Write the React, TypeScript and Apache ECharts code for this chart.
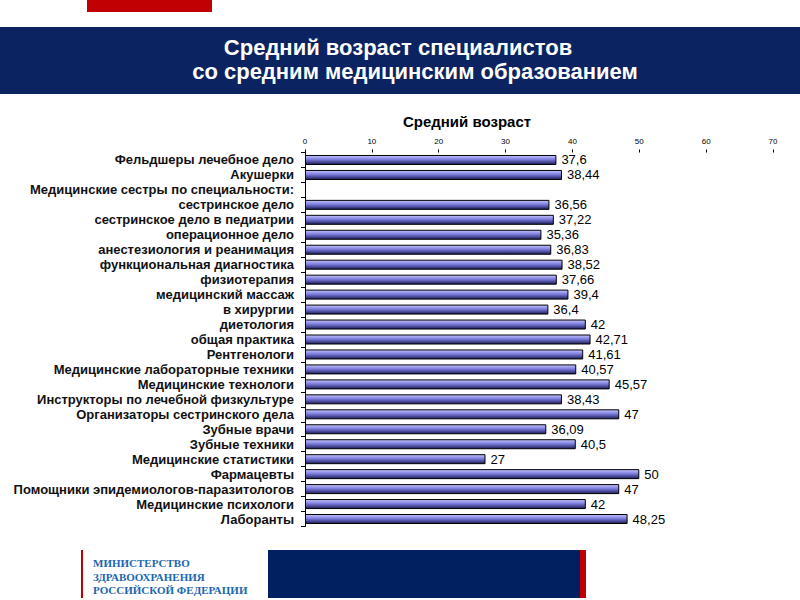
import React, { useEffect, useRef } from "react";
import * as echarts from "echarts";

const categories = [
  "Фельдшеры лечебное дело",
  "Акушерки",
  "Медицинские сестры по специальности:",
  "сестринское дело",
  "сестринское дело в педиатрии",
  "операционное дело",
  "анестезиология и реанимация",
  "функциональная диагностика",
  "физиотерапия",
  "медицинский массаж",
  "в хирургии",
  "диетология",
  "общая практика",
  "Рентгенологи",
  "Медицинские лабораторные техники",
  "Медицинские технологи",
  "Инструкторы по лечебной физкультуре",
  "Организаторы сестринского дела",
  "Зубные врачи",
  "Зубные техники",
  "Медицинские статистики",
  "Фармацевты",
  "Помощники эпидемиологов-паразитологов",
  "Медицинские психологи",
  "Лаборанты",
];

const values: (number | null)[] = [
  37.6, 38.44, null, 36.56, 37.22, 35.36, 36.83, 38.52, 37.66, 39.4, 36.4, 42,
  42.71, 41.61, 40.57, 45.57, 38.43, 47, 36.09, 40.5, 27, 50, 47, 42, 48.25,
];

const xTicks = [0, 10, 20, 30, 40, 50, 60, 70];

const titleLine1 = "Средний возраст специалистов";
const titleLine2 = "со средним медицинским образованием";
const chartTitle = "Средний возраст";
const footerLines = ["МИНИСТЕРСТВО", "ЗДРАВООХРАНЕНИЯ", "РОССИЙСКОЙ ФЕДЕРАЦИИ"];

export default function App() {
  const ref = useRef<HTMLDivElement>(null);
  useEffect(() => {
    const chart = echarts.init(ref.current!, null, { renderer: "svg" });
    const navy = "#0b2461";
    chart.setOption({
      animation: false,
      backgroundColor: "#ffffff",
      graphic: [
        { type: "rect", shape: { x: 87, y: 0, width: 125, height: 12 }, style: { fill: "#c00000" } },
        { type: "rect", shape: { x: 0, y: 27, width: 800, height: 67 }, style: { fill: navy } },
        {
          type: "text", x: 398, y: 47,
          style: { text: titleLine1, fill: "#ffffff", font: "bold 22px 'Liberation Sans', Arial", align: "center", verticalAlign: "middle" },
        },
        {
          type: "text", x: 415, y: 71,
          style: { text: titleLine2, fill: "#ffffff", font: "bold 22px 'Liberation Sans', Arial", align: "center", verticalAlign: "middle" },
        },
        {
          type: "text", x: 467, y: 121,
          style: { text: chartTitle, fill: "#000000", font: "bold 15px 'Liberation Sans', Arial", align: "center", verticalAlign: "middle" },
        },
        { type: "rect", shape: { x: 81, y: 550, width: 2, height: 48 }, style: { fill: "#c00000" } },
        { type: "rect", shape: { x: 268, y: 550, width: 312, height: 48 }, style: { fill: "#002060" } },
        { type: "rect", shape: { x: 580, y: 550, width: 6, height: 48 }, style: { fill: "#c00000" } },
        ...footerLines.map((t, i) => ({
          type: "text", x: 93, y: 563 + i * 13.5,
          style: { text: t, fill: "#1a67b0", font: "bold 11px 'Liberation Serif', 'DejaVu Serif', serif", verticalAlign: "middle" },
        })),
      ],
      grid: { left: 305, right: 27, top: 152.5, bottom: 73.5, containLabel: false },
      xAxis: {
        type: "value",
        position: "top",
        min: 0,
        max: 70,
        interval: 10,
        axisLine: { show: false },
        axisTick: { show: true, length: 3, lineStyle: { color: "#000" } },
        splitLine: { show: false },
        axisLabel: { fontSize: 8, color: "#000", fontFamily: "'Liberation Sans', Arial", margin: 7, formatter: (v: number) => (xTicks.includes(v) ? String(v) : "") },
      },
      yAxis: {
        type: "category",
        inverse: true,
        data: categories,
        axisLine: { show: true, lineStyle: { color: "#000", width: 1 } },
        axisTick: { show: true, length: 4, interval: 0, lineStyle: { color: "#000" } },
        axisLabel: { interval: 0, hideOverlap: false, fontSize: 13, lineHeight: 14, fontWeight: "bold", color: "#111", fontFamily: "'Liberation Sans', Arial", margin: 11 },
      },
      series: [
        {
          type: "bar",
          data: values,
          barWidth: 10,
          itemStyle: {
            borderColor: "#000",
            borderWidth: 1,
            color: new echarts.graphic.LinearGradient(0, 0, 0, 1, [
              { offset: 0, color: "#c4c4ff" },
              { offset: 0.45, color: "#7c7cdc" },
              { offset: 1, color: "#1c1c58" },
            ]),
          },
          label: {
            show: true,
            position: "right",
            distance: 5,
            fontSize: 13,
            color: "#000",
            fontFamily: "'Liberation Sans', Arial",
            formatter: (p: any) => (p.value == null ? "" : String(p.value).replace(".", ",")),
          },
        },
      ],
    });
    return () => chart.dispose();
  }, []);
  return <div ref={ref} style={{ position: "fixed", left: 0, top: 0, width: 800, height: 600 }} />;
}
